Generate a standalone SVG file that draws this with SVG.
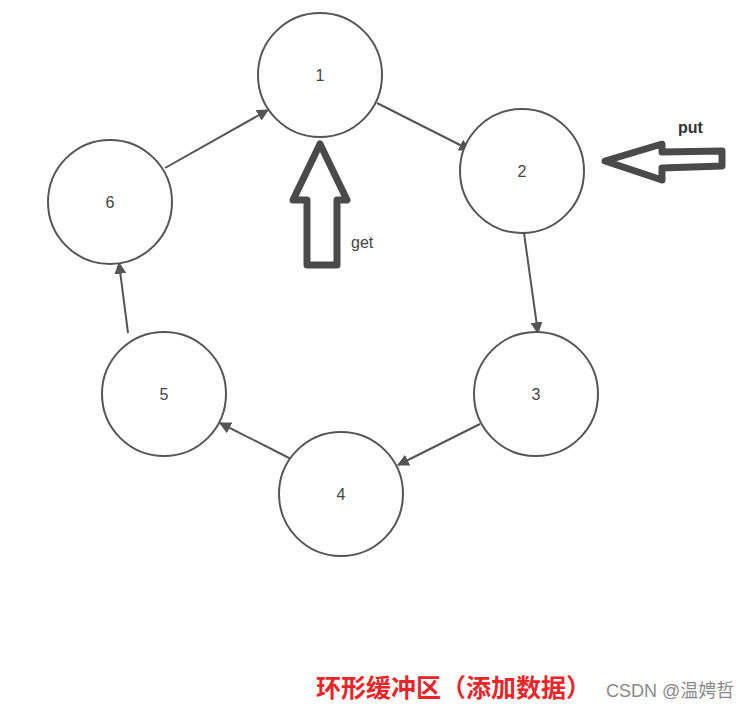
<svg xmlns="http://www.w3.org/2000/svg" width="752" height="711" viewBox="0 0 752 711">
<style>
.node circle{fill:#fff;stroke:#555;stroke-width:2}
.node text{font-family:"Liberation Sans",Arial,sans-serif;font-size:16px;fill:#444;text-anchor:middle;dominant-baseline:central}
.edge{stroke:#555;stroke-width:2;fill:none;marker-end:url(#ah)}
.big{fill:none;stroke:#4a4a4a;stroke-width:7;stroke-linejoin:round}
.lbl{font-family:"Liberation Sans",Arial,sans-serif;font-size:16px;fill:#444}
</style>
<defs>
<marker id="ah" viewBox="0 0 10 10" refX="9" refY="5" markerWidth="6" markerHeight="6" orient="auto" markerUnits="strokeWidth">
<path d="M0,0 L10,5 L0,10 Z" fill="#555"/>
</marker>
</defs>
<rect width="752" height="711" fill="#fff"/>
<g id="connectors">
<line class="edge" x1="377" y1="103" x2="470" y2="150"/>
<line class="edge" x1="524" y1="233" x2="538" y2="333"/>
<line class="edge" x1="480" y1="424" x2="398" y2="465"/>
<line class="edge" x1="291" y1="459" x2="220" y2="423"/>
<line class="edge" x1="128" y1="333" x2="119" y2="263"/>
<line class="edge" x1="165" y1="168" x2="268" y2="110"/>
</g>
<g id="node1" class="node"><circle cx="320" cy="75" r="62"/><text x="320" y="75">1</text></g>
<g id="node2" class="node"><circle cx="522" cy="171" r="62"/><text x="522" y="171">2</text></g>
<g id="node3" class="node"><circle cx="536" cy="394" r="62"/><text x="536" y="394">3</text></g>
<g id="node4" class="node"><circle cx="341" cy="494" r="62"/><text x="341" y="494">4</text></g>
<g id="node5" class="node"><circle cx="164" cy="394" r="62"/><text x="164" y="394">5</text></g>
<g id="node6" class="node"><circle cx="110" cy="202" r="62"/><text x="110" y="202">6</text></g>
<g id="get">
<polygon class="big" points="320,144 347,200 337,200 337,265 307,265 307,200 293,200"/>
<text class="lbl" x="351" y="248">get</text>
</g>
<g id="put">
<polygon class="big" points="605,161 662,144 662,152 722,151 722,166 662,168 662,180"/>
<text class="lbl" x="678" y="133" style="font-weight:bold;fill:#333">put</text>
</g>
<text x="316" y="697" style="font-family:'Noto Sans CJK SC',sans-serif;font-size:25px;font-weight:bold;fill:#e8262a">环形缓冲区（添加数据）</text>
<text x="606" y="697" style="font-family:'Liberation Sans','Noto Sans CJK SC',sans-serif;font-size:18px;fill:#8a8a8a">CSDN @温娉哲</text>
</svg>
